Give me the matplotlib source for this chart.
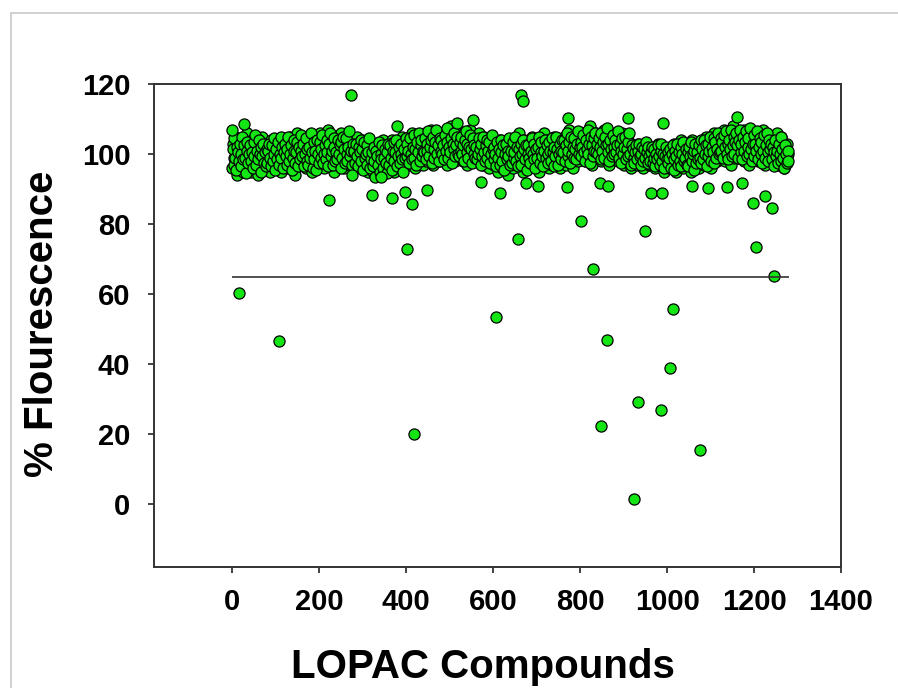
import matplotlib

matplotlib.use("Agg")
import matplotlib.pyplot as plt
import numpy as np
from matplotlib.patches import Rectangle

# screening readout: even-numbered compounds ...
band_even = [
    96, 103, 99, 105, 101, 94, 98, 102, 100, 97, 104, 99, 95, 101, 103, 98, 100, 106, 97, 102,
    99, 95, 101, 104, 98, 100, 96, 103, 101, 99, 94, 102, 100, 97, 105, 98, 101, 99, 103, 96,
    100, 102, 98, 95, 104, 99, 101, 97, 103, 100, 96, 99, 102, 98, 104, 101, 95, 100, 103, 99,
    98, 104, 100, 96, 102, 99, 105, 101, 97, 103, 100, 98, 94, 102, 106, 99, 101, 97, 103, 100,
    101, 97, 104, 99, 102, 96, 100, 103, 98, 105, 101, 99, 95, 102, 100, 104, 98, 101, 97, 103,
    100, 106, 98, 102, 99, 104, 96, 101, 103, 99, 107, 100, 97, 102, 105, 98, 101, 95, 103, 100,
    102, 99, 104, 97, 101, 106, 100, 98, 103, 96, 101, 105, 99, 102, 97, 100, 104, 98, 101, 103,
    99, 103, 97, 101, 105, 98, 100, 96, 102, 104, 99, 101, 97, 103, 100, 98, 95, 102, 99, 101,
    98, 101, 95, 99, 103, 97, 100, 94, 102, 99, 96, 101, 98, 104, 97, 100, 95, 102, 99, 97,
    100, 96, 102, 98, 104, 99, 95, 101, 97, 103, 100, 98, 102, 96, 101, 105, 99, 97, 103, 100,
    102, 98, 104, 100, 97, 103, 101, 106, 99, 102, 96, 104, 100, 98, 103, 101, 105, 99, 102, 97,
    103, 100, 106, 98, 102, 104, 99, 101, 107, 100, 103, 97, 102, 105, 101, 99, 104, 102, 98, 106,
    101, 104, 99, 103, 106, 100, 102, 97, 105, 101, 103, 99, 108, 102, 100, 104, 98, 103, 101, 106,
    102, 99, 105, 101, 103, 98, 106, 100, 104, 102, 97, 103, 101, 107, 99, 102, 104, 100, 98, 103,
    100, 104, 98, 102, 106, 99, 101, 103, 97, 105, 100, 102, 99, 104, 101, 96, 103, 100, 102, 98,
    101, 97, 103, 99, 100, 95, 102, 98, 104, 100, 96, 101, 99, 103, 97, 102, 100, 94, 101, 99,
    98, 102, 100, 96, 104, 99, 101, 97, 103, 100, 106, 98, 102, 99, 95, 101, 104, 100, 97, 102,
    100, 96, 103, 99, 101, 105, 98, 102, 100, 97, 104, 99, 101, 95, 103, 100, 98, 102, 106, 99,
    101, 98, 104, 100, 96, 102, 99, 103, 97, 101, 105, 100, 98, 102, 104, 99, 101, 96, 103, 100,
    102, 99, 105, 101, 97, 103, 100, 107, 98, 102, 104, 100, 96, 103, 101, 99, 105, 102, 98, 104,
    101, 104, 99, 103, 106, 100, 102, 98, 105, 101, 103, 108, 100, 102, 97, 104, 101, 99, 106, 102,
    103, 100, 105, 101, 98, 104, 102, 107, 99, 103, 101, 105, 100, 97, 104, 102, 106, 100, 103, 99,
    102, 105, 100, 103, 98, 101, 104, 99, 106, 102, 100, 97, 103, 101, 99, 104, 100, 102, 96, 101,
    100, 98, 102, 99, 101, 97, 103, 100, 98, 101, 99, 102, 96, 100, 103, 98, 101, 99, 100, 97,
    99, 101, 97, 100, 98, 102, 96, 99, 101, 98, 103, 100, 97, 99, 102, 98, 100, 95, 101, 99,
    98, 100, 96, 102, 99, 97, 101, 98, 103, 100, 95, 99, 102, 97, 100, 98, 104, 99, 96, 101,
    100, 97, 102, 99, 103, 98, 101, 95, 100, 104, 99, 97, 102, 100, 98, 103, 101, 96, 100, 102,
    99, 103, 100, 97, 102, 105, 98, 101, 104, 100, 96, 103, 101, 99, 106, 100, 102, 98, 104, 101,
    103, 100, 105, 99, 102, 107, 101, 98, 104, 102, 106, 100, 103, 97, 105, 101, 108, 99, 103, 102,
    104, 101, 106, 99, 103, 100, 105, 102, 98, 107, 101, 104, 100, 103, 97, 106, 102, 99, 104, 101,
    102, 105, 100, 103, 98, 106, 101, 104, 99, 102, 107, 100, 103, 97, 101, 105, 99, 102, 104, 100,
    101, 99, 104, 98, 102, 100, 106, 97, 103, 99, 101, 105, 98, 100, 102, 96, 101, 99, 103, 100,
]

# ... and odd-numbered compounds
band_odd = [
    101.5, 97, 104.5, 99, 95.5, 102, 100.5, 98, 103, 96.5, 100, 105, 98.5, 102.5, 99, 94.5, 101, 103.5, 97.5, 100,
    102.5, 98, 100.5, 96, 103.5, 99.5, 105.5, 97, 101, 98.5, 104, 100, 95, 102, 99.5, 103, 97.5, 100.5, 96.5, 101.5,
    97.5, 101, 103, 99, 96.5, 102.5, 98, 104.5, 100, 95.5, 101.5, 98.5, 103.5, 97, 100, 105, 99, 102, 96, 100.5,
    103, 99.5, 97, 101.5, 105, 98, 100, 102.5, 95.5, 99, 104, 101, 97.5, 100.5, 103.5, 96.5, 102, 98.5, 101, 105.5,
    99.5, 103, 96.5, 100, 104.5, 98, 101.5, 97, 102, 99, 106, 100.5, 96, 103.5, 98.5, 101, 95.5, 104, 100, 97.5,
    103.5, 99, 101.5, 105.5, 97.5, 100, 102.5, 98.5, 104, 100.5, 96.5, 103, 106, 99.5, 101, 97, 104.5, 102, 98, 100.5,
    98.5, 104, 100, 102.5, 96, 103.5, 99, 105, 101.5, 97.5, 104.5, 100, 98, 102, 106.5, 99.5, 101, 97, 103, 100.5,
    101, 97.5, 103, 99.5, 96.5, 102, 100.5, 104, 98, 101.5, 95.5, 103.5, 99, 100, 97, 102.5, 100.5, 104.5, 96, 98.5,
    100.5, 96.5, 102, 98, 93.5, 101, 99.5, 97, 103.5, 95, 100, 98.5, 102.5, 96, 99, 101.5, 97.5, 94.5, 100.5, 103,
    97, 102.5, 99, 95.5, 101, 103.5, 98, 100.5, 104, 96.5, 99.5, 102, 97.5, 103, 100, 98.5, 95, 101.5, 99, 104.5,
    99.5, 103, 101, 97.5, 104.5, 100, 98.5, 102, 105.5, 99, 101.5, 97, 103.5, 100.5, 106, 98, 102.5, 104, 99.5, 101,
    100.5, 104.5, 98.5, 103, 101, 106.5, 99.5, 102, 104, 97.5, 105, 101.5, 99, 103.5, 107, 100, 102.5, 98, 104.5, 101,
    104, 100, 102.5, 98.5, 105.5, 101, 103.5, 107.5, 99, 102, 100.5, 104.5, 97.5, 103, 101.5, 106, 99.5, 102.5, 105, 100,
    99.5, 103.5, 101, 105, 100, 102.5, 98, 104, 106.5, 100.5, 103, 99, 102, 105.5, 101.5, 97.5, 104.5, 100, 102.5, 99,
    102, 98.5, 100, 104.5, 101.5, 97, 103, 99.5, 105, 100.5, 98, 102.5, 104, 99, 101, 103.5, 97.5, 100, 105.5, 101.5,
    98.5, 102, 100, 96.5, 103.5, 99, 101.5, 97, 100.5, 104, 98, 102.5, 95.5, 100, 103, 98.5, 101, 99.5, 104.5, 97,
    101, 97.5, 103.5, 99, 100.5, 105, 98, 102, 96.5, 101.5, 99.5, 103, 97, 100, 104, 101.5, 98.5, 102.5, 95.5, 100,
    102.5, 99, 97.5, 101, 104.5, 100, 98.5, 103, 96, 101.5, 99, 102, 105, 97.5, 100.5, 103.5, 99.5, 96.5, 101, 104,
    99, 102.5, 100, 97.5, 103.5, 101, 98, 104.5, 100.5, 96.5, 102, 99.5, 105, 101.5, 97, 100, 103, 98.5, 101, 104,
    100.5, 104, 98, 102.5, 106, 99.5, 101, 103.5, 97.5, 105, 100, 102, 99, 104.5, 101.5, 98.5, 103, 106.5, 100, 102,
    103.5, 99.5, 102, 105.5, 100.5, 98, 104, 101.5, 107, 100, 103, 97.5, 105, 102.5, 99.5, 104.5, 101, 106, 100.5, 103,
    100, 104.5, 102, 98.5, 106, 101, 103.5, 99, 105, 102.5, 107.5, 100.5, 103, 98, 104, 101.5, 99.5, 105.5, 102, 100,
    104, 100.5, 102.5, 106.5, 99, 103, 101, 97.5, 104.5, 100, 102, 105, 98.5, 101.5, 103.5, 99.5, 106, 100, 97, 102.5,
    101.5, 99, 97.5, 100.5, 102.5, 98.5, 101, 103, 99.5, 97, 100, 102, 98, 101.5, 99, 103.5, 100.5, 97.5, 102, 99.5,
    98, 100.5, 102, 97.5, 99, 101.5, 96.5, 100, 98.5, 102.5, 99.5, 97, 101, 103, 98, 100, 96, 99.5, 102, 98.5,
    100.5, 97.5, 99, 101.5, 96, 100, 102.5, 98.5, 95.5, 101, 99.5, 103, 97, 100.5, 98, 102, 96.5, 100, 103.5, 98,
    99, 101.5, 97, 100.5, 96.5, 102, 99.5, 103.5, 98, 100, 95.5, 101, 103, 97.5, 100.5, 98.5, 102.5, 99, 104, 97.5,
    101.5, 98.5, 104, 100, 102.5, 96.5, 103, 99.5, 101, 105, 98, 102, 100.5, 104.5, 97.5, 103.5, 99, 101.5, 106, 100,
    100.5, 104.5, 101, 103.5, 99, 105.5, 102, 106.5, 100, 103, 98.5, 104, 101.5, 107, 99.5, 102.5, 105, 100, 103.5, 106,
    102.5, 99, 104, 107, 100.5, 103, 98.5, 105, 101, 103.5, 106.5, 99.5, 102, 104.5, 100, 107.5, 101.5, 98, 103, 105.5,
    99.5, 103, 101, 106.5, 98.5, 102, 104.5, 100, 103.5, 97.5, 101, 105.5, 99, 102.5, 106, 100.5, 98, 104, 101.5, 103,
    98.5, 102, 100.5, 96.5, 104, 99.5, 101, 97.5, 103, 100, 105, 98, 101.5, 99, 96, 102.5, 100, 97.5, 101, 98,
]

# compounds that stand apart from the band
outlier_x = [16, 108, 417, 401, 223, 322, 368, 414, 398, 449, 272, 380, 606, 658, 801,
             829, 949, 1013, 861, 1006, 933, 985, 847, 1075, 923, 1204, 1246, 1197, 1225,
             1241, 615, 663, 668, 990, 1160, 773, 909, 571, 675, 702, 769, 845, 863, 962,
             988, 1057, 1094, 1137, 1172, 276, 343, 0, 28, 518, 553]
outlier_y = [60.3, 46.6, 19.9, 72.9, 86.9, 88.3, 87.4, 85.7, 89.1, 89.6, 116.9, 108.0, 53.4,
             75.7, 80.9, 67.1, 78.0, 55.7, 46.9, 38.9, 29.1, 26.9, 22.3, 15.4, 1.4, 73.4, 65.1,
             86.0, 88.0, 84.6, 88.9, 116.9, 115.1, 109.0, 110.6, 110.3, 110.3, 92.0, 91.7,
             90.9, 90.6, 91.7, 91.0, 88.9, 88.9, 91.0, 90.3, 90.6, 91.7, 94.0, 93.5, 107.0,
             108.5, 109.0, 109.7]

cutoff = 65
n_compounds = 1280

x_ticks = [0, 200, 400, 600, 800, 1000, 1200, 1400]
y_ticks = [0, 20, 40, 60, 80, 100, 120]

plt.rcParams["font.family"] = ["Liberation Sans", "DejaVu Sans"]
plt.rcParams["font.weight"] = "bold"

W, H = 898, 688
fig = plt.figure(figsize=(W / 100, H / 100), dpi=100)
ax = fig.add_axes([154 / W, 1 - 567 / H, (841 - 154) / W, (567 - 84) / H])

even_x = np.arange(len(band_even)) * 2
odd_x = np.arange(len(band_odd)) * 2 + 1
marker_kw = dict(s=64, c="#14e614", edgecolors="black", linewidths=0.9)
ax.scatter(even_x, band_even, zorder=2, **marker_kw)
ax.scatter(odd_x, band_odd, zorder=2, **marker_kw)
ax.scatter(outlier_x, outlier_y, zorder=3, **marker_kw)
ax.hlines(cutoff, 0, n_compounds, colors="#333333", linewidth=1.2, zorder=4)

ax.set_xlim(-180, 1400)
ax.set_ylim(-18, 120)
ax.set_xticks(x_ticks)
ax.set_yticks(y_ticks)
ax.tick_params(direction="out", length=4, width=1.2, color="#222222", labelsize=21)
ax.tick_params(axis="x", pad=11)
ax.tick_params(axis="y", pad=13)
for spine in ax.spines.values():
    spine.set_linewidth(1.4)
    spine.set_color("#333333")

ax.set_xlabel("LOPAC Compounds", fontsize=29, fontweight="bold", va="center")
ax.xaxis.set_label_coords((483 - 154) / (841 - 154), (567 - 667) / (567 - 84))
ax.set_ylabel("% Flourescence", fontsize=29, fontweight="bold", va="center")
ax.yaxis.set_label_coords((42 - 154) / (841 - 154), (567 - 324) / (567 - 84))

# light grey frame of the original page
fig.patches.append(Rectangle((10.5 / W, -0.1), 1.2, 1.1 - 12.5 / H, transform=fig.transFigure,
                             fill=False, edgecolor="#c8c8c8", linewidth=1.2))

fig.savefig("out.png", dpi=100)
